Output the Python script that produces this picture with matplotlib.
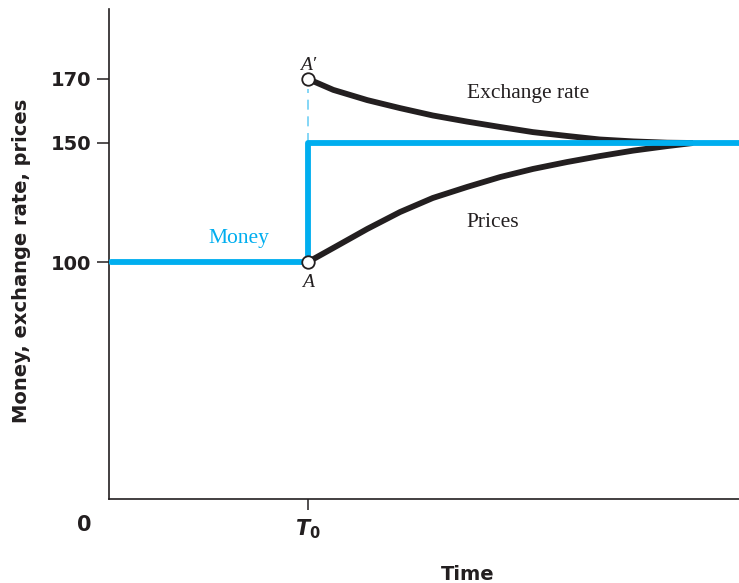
import numpy as np
import matplotlib
matplotlib.use('Agg')
import matplotlib.pyplot as plt

# values (time in arbitrary units, T0 = shock date)
T0 = 3.16
money_t = [0.03, T0, T0, 10.0]
money_v = [100, 100, 150, 150]
exch_t = [3.16, 3.56, 4.10, 4.62, 5.14, 5.68, 6.21, 6.73, 7.27, 7.79, 8.32, 8.86, 9.27]
exch_v = [170, 166.6, 163.4, 160.9, 158.6, 156.7, 155.0, 153.4, 152.2, 151.1, 150.5, 150.1, 150]
price_t = [3.16, 3.56, 4.10, 4.62, 5.14, 5.68, 6.21, 6.73, 7.27, 7.79, 8.32, 8.86, 9.27]
price_v = [100, 105.9, 113.9, 121.0, 126.9, 131.5, 135.7, 139.1, 142.0, 144.5, 146.8, 148.7, 150]
ytick_vals = [100, 150, 170]

BLUE = '#00AEEF'
BLACK = '#231F20'

plt.rcParams['mathtext.fontset'] = 'custom'
plt.rcParams['mathtext.it'] = 'DejaVu Sans:italic:bold'
plt.rcParams['mathtext.rm'] = 'DejaVu Sans:bold'

# schematic (non-linear) vertical axis, as in the textbook figure
knots_v = [0, 100, 150, 170, 192]
knots_p = [0, 237, 356, 420, 490]
def fwd(v):
    return np.interp(v, knots_v, knots_p)
def inv(p):
    return np.interp(p, knots_p, knots_v)

fig = plt.figure(figsize=(7.39, 5.83), dpi=100)
ax = fig.add_axes([109 / 739, 1 - 499 / 583, 1 - 109 / 739, 490 / 583])
ax.set_yscale('function', functions=(fwd, inv))
ax.set_xlim(0, 10)
ax.set_ylim(0, 192)

ax.plot(exch_t, exch_v, color=BLACK, lw=4.2, solid_capstyle='butt',
        solid_joinstyle='round', zorder=2)
ax.plot(price_t, price_v, color=BLACK, lw=4.2, solid_capstyle='butt',
        solid_joinstyle='round', zorder=2)
ax.plot(money_t, money_v, color=BLUE, lw=4.2, solid_capstyle='round', zorder=3)
ax.plot([T0, T0], [150, 167], color='#6FCFF5', lw=1.2, ls=(0, (6, 4)), zorder=1)
ax.plot([T0, T0], [100, 170], ls='none', marker='o', ms=9, mfc='white',
        mec=BLACK, mew=1.3, zorder=5)

serif = ['Liberation Serif', 'DejaVu Serif']
ax.text(T0, 171.6, 'A\u2032', family=serif, style='italic', fontsize=14,
        ha='center', va='bottom', color=BLACK)
ax.text(T0, 95, 'A', family=serif, style='italic', fontsize=14,
        ha='center', va='top', color=BLACK)
ax.text(5.68, 165.6, 'Exchange rate', family=serif, fontsize=15.5,
        ha='left', va='center', color=BLACK)
ax.text(5.68, 116.8, 'Prices', family=serif, fontsize=15.5,
        ha='left', va='center', color=BLACK)
ax.text(2.06, 109.7, 'Money', family=serif, fontsize=15.5,
        ha='center', va='center', color=BLUE)

for s in ['top', 'right']:
    ax.spines[s].set_visible(False)
for s in ['left', 'bottom']:
    ax.spines[s].set_color(BLACK)
    ax.spines[s].set_linewidth(1.2)

ax.set_yticks(ytick_vals)
ax.set_yticklabels([str(v) for v in ytick_vals])
ax.set_xticks([T0])
ax.set_xticklabels([r'$T_0$'])
ax.tick_params(axis='y', length=8.5, width=1.1, pad=4, colors=BLACK,
               labelsize=14)
ax.tick_params(axis='x', length=8, width=1.1, pad=5, colors=BLACK,
               labelsize=15)
for lab in ax.get_yticklabels():
    lab.set_fontweight('bold')

ax.annotate('0', xy=(0, 0), xytext=(-18, -19), textcoords='offset points',
            fontsize=15, fontweight='bold', ha='center', va='center',
            color=BLACK, annotation_clip=False)

ax.set_xlabel('Time', fontsize=14, fontweight='bold', color=BLACK)
ax.set_ylabel('Money, exchange rate, prices', fontsize=14,
              fontweight='bold', color=BLACK)
ax.yaxis.set_label_coords(-0.1245, 0.486)
ax.xaxis.set_label_coords(0.57, -0.1347)

fig.savefig('out.png', dpi=100)
